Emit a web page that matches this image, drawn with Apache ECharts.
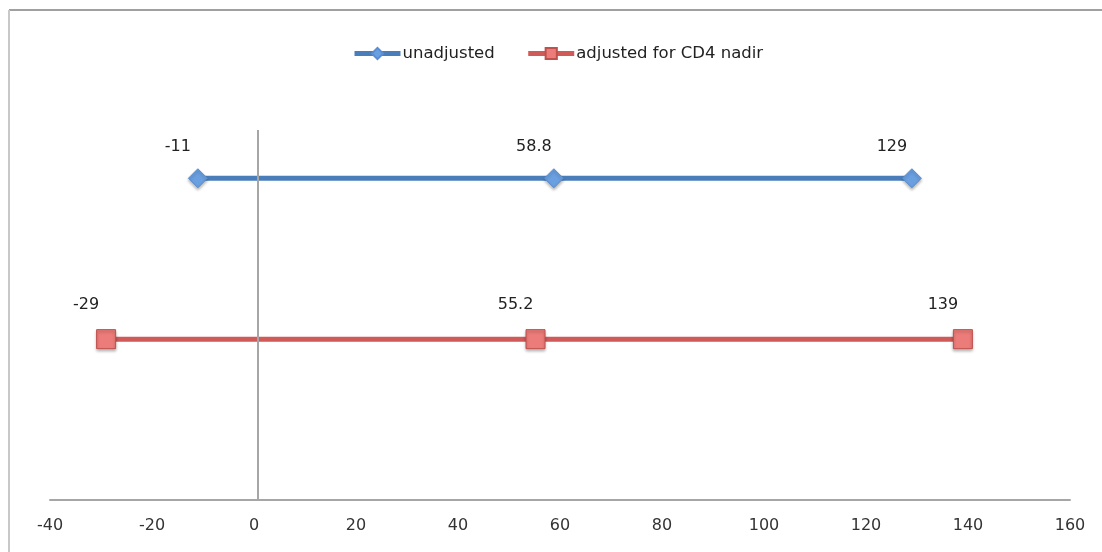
<!DOCTYPE html>
<html><head><meta charset="utf-8">
<script src="https://cdn.jsdelivr.net/npm/echarts@6/dist/echarts.min.js"></script>
<style>html,body{margin:0;padding:0;background:#fff}#c{width:1102px;height:552px}</style>
</head><body><div id="c"></div>
<script>
const seriesNames = ['unadjusted', 'adjusted for CD4 nadir'];
const unadjustedX = [-11, 58.8, 129];
const adjustedX = [-29, 55.2, 139];
const rowLevels = [2, 1];
const xTicks = [-40, -20, 0, 20, 40, 60, 80, 100, 120, 140, 160];
const zeroLineX = 0.8;

const FONT = 'DejaVu Sans, sans-serif';
const chart = echarts.init(document.getElementById('c'));
const mkLabel = dy => ({
  show: true, position: 'top', offset: [-20, dy],
  color: '#222', fontSize: 16, fontFamily: FONT,
  formatter: p => String(p.value[0])
});
chart.setOption({
  animation: false,
  backgroundColor: '#fff',
  legend: {
    top: 40, left: 347, itemWidth: 46, itemHeight: 14, itemGap: 31,
    lineStyle: { width: 5 },
    textStyle: { fontSize: 16.5, color: '#222', fontFamily: FONT, padding: [0, 0, 0, -3] },
    data: seriesNames
  },
  grid: { left: 50, right: 32, top: 130, bottom: 52 },
  xAxis: {
    type: 'value', min: -40, max: 160, interval: 20,
    axisLine: { lineStyle: { color: '#a6a6a6', width: 2 } },
    axisTick: { show: false }, splitLine: { show: false },
    axisLabel: { color: '#333', fontSize: 16, margin: 18, fontFamily: FONT,
      formatter: v => xTicks.includes(v) ? String(v) : '' }
  },
  yAxis: {
    type: 'value', min: 0, max: 2.3,
    axisLine: { show: false },
    axisTick: { show: false }, axisLabel: { show: false }, splitLine: { show: false }
  },
  graphic: [
    { type: 'line', shape: { x1: 9, y1: 10, x2: 1102, y2: 10 }, style: { stroke: '#a0a0a0', lineWidth: 2 } },
    { type: 'line', shape: { x1: 9, y1: 10, x2: 9, y2: 552 }, style: { stroke: '#c8c8c8', lineWidth: 2 } }
  ],
  series: [
    {
      name: seriesNames[0], type: 'line',
      data: unadjustedX.map(x => [x, rowLevels[0]]),
      symbol: 'diamond', symbolSize: 19,
      lineStyle: { color: '#4A7EBB', width: 5 },
      itemStyle: { color: '#6A9FE0', borderColor: '#5A8ED0', borderWidth: 1, shadowColor: 'rgba(0,0,0,0.3)', shadowBlur: 3, shadowOffsetY: 2 },
      label: mkLabel(-8),
      markLine: {
        silent: true, symbol: 'none', label: { show: false },
        lineStyle: { color: '#a6a6a6', width: 2, type: 'solid' },
        data: [{ xAxis: zeroLineX }]
      }
    },
    {
      name: seriesNames[1], type: 'line',
      data: adjustedX.map(x => [x, rowLevels[1]]),
      symbol: 'rect', symbolSize: 19,
      lineStyle: { color: '#D05A57', width: 5 },
      itemStyle: { color: '#EC7C79', borderColor: '#C0504D', borderWidth: 1, shadowColor: 'rgba(0,0,0,0.3)', shadowBlur: 3, shadowOffsetY: 2 },
      label: mkLabel(-11)
    }
  ]
});
</script></body></html>
